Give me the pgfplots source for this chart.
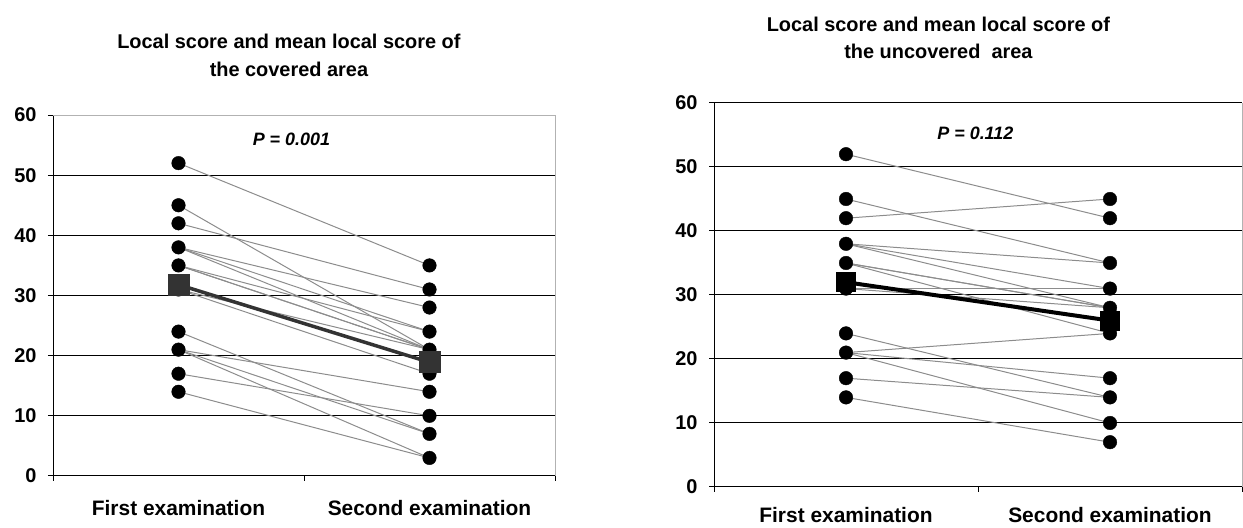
\documentclass[border=0pt]{standalone}
\usepackage{fontspec}
\setmainfont{Liberation Sans}
\usepackage{pgfplots}
\pgfplotsset{compat=1.18}

\definecolor{pairgray}{RGB}{140,140,140}
\definecolor{meangray}{RGB}{51,51,51}

\tikzset{pval/.style={font=\fontsize{18}{22}\selectfont\bfseries\itshape}}

\pgfplotsset{
  scorechart/.style={
    scale only axis,
    xmin=0.5, xmax=2.5, ymin=0, ymax=60,
    axis x line*=bottom, axis y line*=left,
    xtick={0.5,1.5,2.5}, xticklabels={,,},
    extra x ticks={1,2},
    extra x tick labels={First examination,Second examination},
    extra x tick style={major tick length=0pt},
    ytick={0,10,...,60},
    ymajorgrids, grid style={black, line width=1bp},
    tick align=outside, major tick length=5bp,
    tick style={black, line width=1bp},
    axis line style={black, line width=1bp},
    y tick label style={font=\fontsize{20}{24}\selectfont\bfseries, xshift=-8bp},
    x tick label style={font=\fontsize{21}{25}\selectfont\bfseries, yshift=-21bp},
    /pgf/number format/assume math mode=true,
    title style={align=center, anchor=south},
    clip=false,
  },
  pair/.style={color=pairgray, line width=1bp, no marks},
  dots/.style={only marks, mark=*, mark size=6.8bp, black},
}

\begin{document}
\begin{tikzpicture}
\useasboundingbox (0,0) rectangle (1243bp,528bp);

% covered area
\begin{axis}[scorechart, at={(53bp,52bp)}, anchor=south west,
  width=502bp, height=361bp,
  title={Local score and mean local score of\\the covered area},
  title style={at={(0.47,1)}, yshift=29bp, font=\fontsize{20}{28}\selectfont\bfseries},
  after end axis/.code={\draw[gray!60, line width=1bp] (rel axis cs:0,1) -- (rel axis cs:1,1) -- (rel axis cs:1,0);}]
\addplot[pair] coordinates {(1,52) (2,35)};
\addplot[pair] coordinates {(1,45) (2,21)};
\addplot[pair] coordinates {(1,42) (2,31)};
\addplot[pair] coordinates {(1,38) (2,28)};
\addplot[pair] coordinates {(1,38) (2,24)};
\addplot[pair] coordinates {(1,38) (2,21)};
\addplot[pair] coordinates {(1,35) (2,24)};
\addplot[pair] coordinates {(1,35) (2,21)};
\addplot[pair] coordinates {(1,35) (2,21)};
\addplot[pair] coordinates {(1,31) (2,21)};
\addplot[pair] coordinates {(1,31) (2,17)};
\addplot[pair] coordinates {(1,24) (2,7)};
\addplot[pair] coordinates {(1,21) (2,14)};
\addplot[pair] coordinates {(1,21) (2,7)};
\addplot[pair] coordinates {(1,21) (2,3)};
\addplot[pair] coordinates {(1,17) (2,10)};
\addplot[pair] coordinates {(1,14) (2,3)};
\addplot[dots] coordinates {
  (1,52) (1,45) (1,42) (1,38) (1,35) (1,31) (1,24) (1,21) (1,17) (1,14)
  (2,35) (2,31) (2,28) (2,24) (2,21) (2,17) (2,14) (2,10) (2,7) (2,3)};
\addplot[color=meangray, line width=3.5bp, mark=square*, mark size=10.5bp,
  mark options={fill=meangray, line width=0pt}] coordinates {(1,31.8) (2,18.9)};
\node[pval] at (axis cs:1.45,56) {P = 0.001};
\end{axis}

% uncovered area
\begin{axis}[scorechart, at={(714bp,41bp)}, anchor=south west,
  width=528bp, height=384bp,
  x tick label style={yshift=4bp},
  title={Local score and mean local score of\\the uncovered\ \ area},
  title style={at={(0.425,1)}, yshift=35bp, font=\fontsize{20}{27}\selectfont\bfseries},
  after end axis/.code={\draw[gray!60, line width=1bp] (rel axis cs:1,1) -- (rel axis cs:1,0);}]
\addplot[pair] coordinates {(1,52) (2,42)};
\addplot[pair] coordinates {(1,45) (2,35)};
\addplot[pair] coordinates {(1,42) (2,45)};
\addplot[pair] coordinates {(1,38) (2,35)};
\addplot[pair] coordinates {(1,38) (2,31)};
\addplot[pair] coordinates {(1,38) (2,28)};
\addplot[pair] coordinates {(1,35) (2,28)};
\addplot[pair] coordinates {(1,35) (2,28)};
\addplot[pair] coordinates {(1,35) (2,24)};
\addplot[pair] coordinates {(1,31) (2,31)};
\addplot[pair] coordinates {(1,31) (2,28)};
\addplot[pair] coordinates {(1,24) (2,14)};
\addplot[pair] coordinates {(1,21) (2,24)};
\addplot[pair] coordinates {(1,21) (2,17)};
\addplot[pair] coordinates {(1,21) (2,10)};
\addplot[pair] coordinates {(1,17) (2,14)};
\addplot[pair] coordinates {(1,14) (2,7)};
\addplot[dots] coordinates {
  (1,52) (1,45) (1,42) (1,38) (1,35) (1,31) (1,24) (1,21) (1,17) (1,14)
  (2,45) (2,42) (2,35) (2,31) (2,28) (2,24) (2,17) (2,14) (2,10) (2,7)};
\addplot[color=black, line width=4bp, mark=square*, mark size=9.5bp,
  mark options={fill=black, line width=0pt}] coordinates {(1,32) (2,26)};
\node[pval] at (axis cs:1.49,55.3) {P = 0.112};
\end{axis}
\end{tikzpicture}
\end{document}
